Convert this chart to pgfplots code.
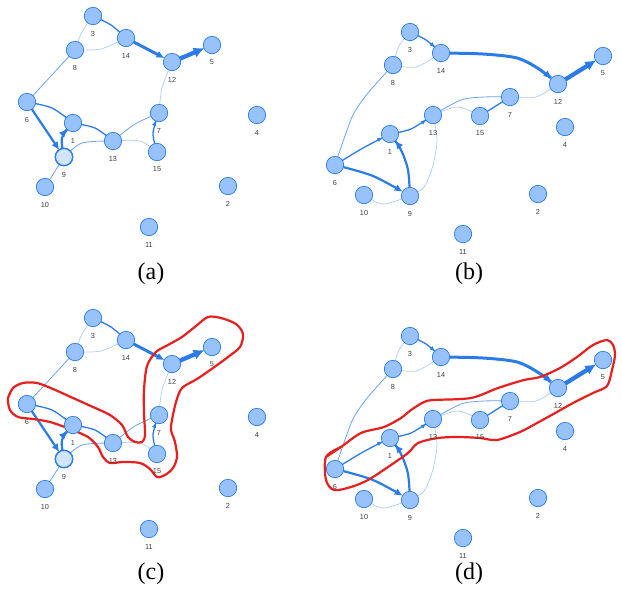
\documentclass[border=0pt]{standalone}
\usepackage{fontspec}
\setmainfont{Liberation Serif}
\newfontfamily\labelfont{Liberation Sans}
\usepackage{pgfplots}
\usepackage{pgfplotstable}
\pgfplotsset{compat=1.18}
\usetikzlibrary{arrows.meta}

\definecolor{edgeblue}{HTML}{2B7CE9}
\definecolor{nodefill}{HTML}{97C2FC}
\definecolor{nodehl}{HTML}{D2E5FF}
\definecolor{hullred}{HTML}{E5201E}

% node positions, layout of (a) and (c)
\pgfplotstableread{
x   y   id
73  123 1
228 186 2
93  16  3
257 115 4
212 45  5
27  102 6
159 113 7
75  50  8
64  157 9
45  187 10
149 227 11
172 62  12
113 141 13
126 38  14
157 152 15
}\layoutA

% node positions, layout of (b) and (d)
\pgfplotstableread{
x   y   id
79  134 1
227 194 2
99  32  3
254 127 4
292 56  5
24  165 6
199 97  7
82  65  8
99  196 9
53  195 10
152 234 11
247 84  12
122 115 13
130 53  14
169 116 15
}\layoutB

\tikzset{capt/.style={font=\fontsize{24}{28}\selectfont}}

\pgfplotsset{
  panel/.style={scale only axis, width=311pt, xmin=0, xmax=311,
    y dir=reverse, hide axis, clip=false, anchor=north west},
  e0/.style={mark=none, smooth, draw=edgeblue!38, line width=0.7pt},
  e1/.style={mark=none, smooth, draw=edgeblue!70, line width=0.8pt},
  e2/.style={mark=none, smooth, draw=edgeblue, line width=1.3pt},
  e3/.style={mark=none, smooth, draw=edgeblue, line width=2.2pt},
  e4/.style={mark=none, smooth, draw=edgeblue, line width=3pt},
  e5/.style={mark=none, smooth, draw=edgeblue, line width=4.3pt},
  arrs/.style={shorten >=8.5pt, -{Latex[length=5pt,width=4.5pt]}},
  arr/.style={shorten >=8.5pt, -{Latex[length=8pt,width=7.5pt]}},
  arrbig/.style={shorten >=8pt, -{Latex[length=11pt,width=10.5pt]}},
  graphnodes/.style={only marks, mark=*, mark size=8.7pt,
    mark options={fill=nodefill, draw=edgeblue, line width=0.7pt},
    nodes near coords, point meta=explicit symbolic,
    every node near coord/.append style={anchor=center, yshift=-17.5pt,
      inner sep=0pt, text=black!75, font=\labelfont\fontsize{7.3}{8}\selectfont}},
  hull/.style={mark=none, smooth, draw=hullred, line width=2.2pt, line join=round},
}

\newcommand{\edgesA}{
  \addplot[e0] coordinates {(93,16) (82,32) (75,50)};
  \addplot[e0] coordinates {(75,50) (101,49) (126,38)};
  \addplot[e2] coordinates {(93,16) (111,25) (126,38)};
  \addplot[e4, arr] coordinates {(126,38) (172,62)};
  \addplot[e5, arrbig] coordinates {(172,62) (212,45)};
  \addplot[e0] coordinates {(172,62) (162,88) (159,113)};
  \addplot[e1] coordinates {(75,50) (27,102)};
  \addplot[e2] coordinates {(27,102) (52,108) (73,123)};
  \addplot[e3, arr] coordinates {(27,102) (64,157)};
  \addplot[e3, arr] coordinates {(64,157) (62,138) (73,123)};
  \addplot[e2] coordinates {(73,123) (95,128) (113,141)};
  \addplot[e1] coordinates {(64,157) (82,143) (113,141)};
  \addplot[e1] coordinates {(113,141) (135,124) (159,113)};
  \addplot[e0] coordinates {(113,141) (140,141) (157,152)};
  \addplot[e2, arrs] coordinates {(157,152) (153,133) (159,113)};
  \addplot[e1] coordinates {(64,157) (45,187)};
  \addplot[graphnodes] table[x=x, y=y, meta=id] {\layoutA};
  \addplot[only marks, mark=*, mark size=8.7pt,
    mark options={fill=nodehl, draw=edgeblue, line width=1.4pt}]
    coordinates {(64,157)};
}

\newcommand{\edgesB}{
  \addplot[e0] coordinates {(99,32) (88,46) (82,65)};
  \addplot[e0] coordinates {(82,65) (105,67) (130,53)};
  \addplot[e2, arrs] coordinates {(99,32) (115,40) (130,53)};
  \addplot[e4, arr] coordinates {(130,53) (172,54) (206,58) (228,69) (247,84)};
  \addplot[e5, arrbig] coordinates {(247,84) (292,56)};
  \addplot[e0] coordinates {(247,84) (225,97) (199,97)};
  \addplot[e1] coordinates {(82,65) (57,93) (43,113) (35,133) (24,165)};
  \addplot[e2, arrs] coordinates {(24,165) (52,148) (79,134)};
  \addplot[e3, arr] coordinates {(24,165) (62,176) (99,196)};
  \addplot[e3, arr] coordinates {(99,196) (97,170) (90,150) (79,134)};
  \addplot[e2, arrs] coordinates {(79,134) (100,129) (122,115)};
  \addplot[e1] coordinates {(122,115) (150,100) (173,97) (199,97)};
  \addplot[e0] coordinates {(122,115) (147,107) (169,116)};
  \addplot[e2] coordinates {(169,116) (199,97)};
  \addplot[e0] coordinates {(122,115) (126,140) (122,165) (113,187) (99,196)};
  \addplot[e0] coordinates {(53,195) (72,204) (99,196)};
  \addplot[graphnodes] table[x=x, y=y, meta=id] {\layoutB};
}

\begin{document}
\begin{tikzpicture}
\useasboundingbox (0pt,0pt) rectangle (622pt,-597pt);

% (a)
\begin{axis}[panel, at={(0pt,0pt)}, height=300pt, ymin=0, ymax=300]
  \edgesA
  \node[capt] at (axis cs:151,274) {(a)};
\end{axis}

% (b)
\begin{axis}[panel, at={(311pt,0pt)}, height=300pt, ymin=0, ymax=300]
  \edgesB
  \node[capt] at (axis cs:158,274) {(b)};
\end{axis}

% (c)
\begin{axis}[panel, at={(0pt,-300pt)}, height=297pt, ymin=-2, ymax=295]
  \edgesA
  \addplot[hull] coordinates {
    (8,96) (13,86) (23,81) (37,81) (53,87) (73,96) (93,105) (110,113)
    (122,123) (128,135) (135,140) (142,140) (145,133) (144,111) (144,88)
    (147,64) (156,50) (168,43) (182,35) (196,24) (208,15) (221,16)
    (236,22) (243,32) (240,45) (228,55) (213,66) (197,77) (182,86)
    (176,100) (172,118) (171,128) (175,140) (177,155) (173,166) (165,173)
    (157,175) (150,167) (140,161) (123,160) (110,161) (103,155) (98,145)
    (88,135) (70,127) (50,120) (33,117) (18,115) (10,108) (8,96) (13,86)
  };
  \node[capt] at (axis cs:151,272) {(c)};
\end{axis}

% (d)
\begin{axis}[panel, at={(311pt,-300pt)}, height=297pt, ymin=-4, ymax=293]
  \edgesB
  \addplot[hull] coordinates {
    (15,153) (30,143) (50,129) (73,123) (90,114) (100,106) (113,98)
    (123,96) (160,94) (187,84) (213,76) (229,73) (249,64) (266,53)
    (282,41) (296,36) (302,41) (304,51) (301,66) (296,82) (282,89)
    (262,99) (246,108) (226,119) (209,128) (186,136) (169,134) (147,133)
    (127,134) (107,139) (97,149) (77,163) (57,176) (40,183) (23,186)
    (15,176) (15,153) (30,143)
  };
  \node[capt] at (axis cs:158,270) {(d)};
\end{axis}
\end{tikzpicture}
\end{document}
